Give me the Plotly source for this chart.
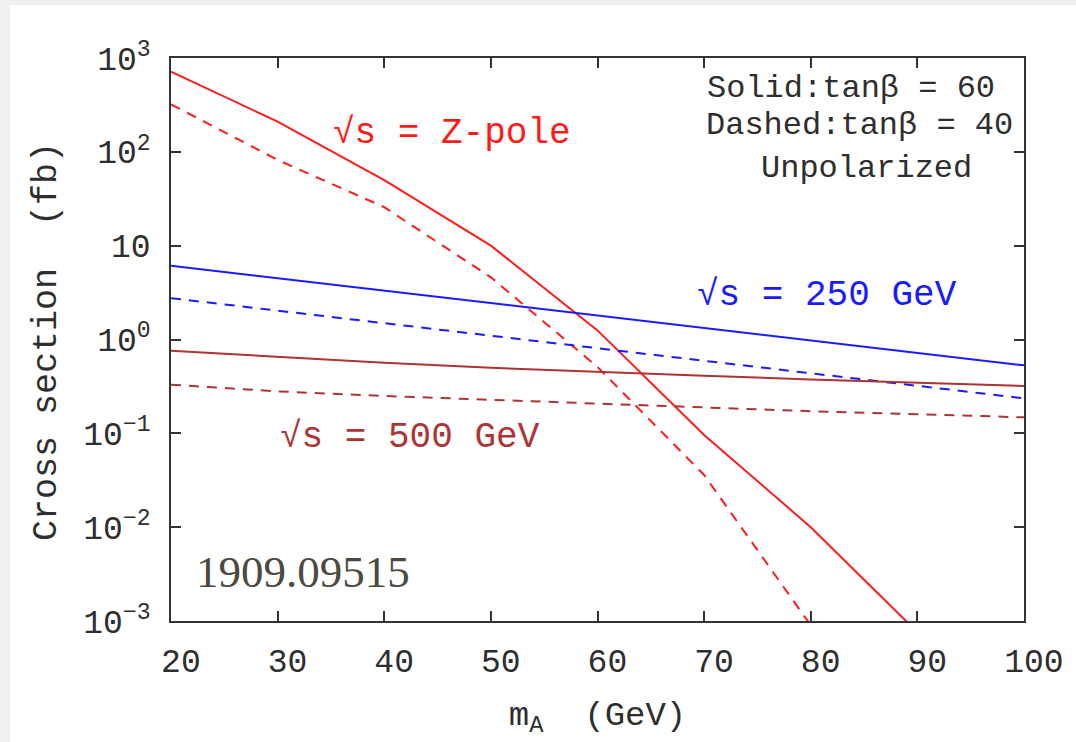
import plotly.graph_objects as go

# Pseudoscalar mass grid (GeV)
m_A = [20, 30, 40, 50, 60, 70, 80, 90, 100]

# Cross sections (fb)
zpole_tb60 = [714, 210, 50, 10.0, 1.25, 0.096, 0.0100, 0.00076]
zpole_tb40 = [321, 82, 25.7, 4.6, 0.51, 0.036, 0.00090]
s250_tb60 = [6.11, 4.5, 3.32, 2.45, 1.81, 1.33, 0.98, 0.72, 0.53]
s250_tb40 = [2.76, 2.03, 1.50, 1.10, 0.81, 0.60, 0.44, 0.32, 0.236]
s500_tb60 = [0.76, 0.65, 0.565, 0.50, 0.45, 0.41, 0.375, 0.345, 0.32]
s500_tb40 = [0.33, 0.28, 0.25, 0.228, 0.21, 0.19, 0.172, 0.16, 0.148]

y_tickvals = [1e-3, 1e-2, 1e-1, 1, 10, 100, 1000]
y_ticktext = ["10<sup>−3</sup>", "10<sup>−2</sup>", "10<sup>−1</sup>",
              "10<sup>0</sup>", "10", "10<sup>2</sup>", "10<sup>3</sup>"]
x_tickvals = [20, 30, 40, 50, 60, 70, 80, 90, 100]
x_ticktext = ["&nbsp;" + str(v) for v in x_tickvals]

RED = "#ff1a1a"
BLUE = "#1a1aff"
BROWN = "#ad3434"
INK = "#2e2e2e"
MONO = "Liberation Mono, Courier New, monospace"
DASH = "10px,8px"

fig = go.Figure()

series = [
    (zpole_tb60, RED, "solid"),
    (zpole_tb40, RED, DASH),
    (s250_tb60, BLUE, "solid"),
    (s250_tb40, BLUE, DASH),
    (s500_tb60, BROWN, "solid"),
    (s500_tb40, BROWN, DASH),
]
for vals, color, dash in series:
    fig.add_trace(go.Scatter(
        x=m_A[:len(vals)], y=vals, mode="lines",
        line=dict(color=color, width=2, dash=dash),
        showlegend=False, hoverinfo="skip",
    ))

def label(x, logy, text, color, size):
    fig.add_annotation(x=x, y=logy, xref="x", yref="y", text=text,
                       showarrow=False, xanchor="center", yanchor="middle",
                       font=dict(family=MONO, size=size, color=color))

label(46.4, 2.2, "√s = Z-pole", RED, 36)
label(81.5, 0.473, "√s = 250 GeV", BLUE, 36)
label(42.4, -1.04, "√s = 500 GeV", BROWN, 36)
label(83.8, 2.68, "Solid:tanβ = 60", INK, 32)
label(84.6, 2.286, "Dashed:tanβ = 40", INK, 32)
label(85.2, 1.827, "Unpolarized", INK, 32)

fig.add_annotation(x=32.4, y=-2.48, xref="x", yref="y", text="1909.09515",
                   showarrow=False, xanchor="center", yanchor="middle",
                   font=dict(family="Liberation Serif, serif", size=45,
                             color="#4d4840"))

# vertical axis title
fig.add_annotation(x=-124 / 853, y=0.4956, xref="paper", yref="paper",
                   text="Cross section  (fb)", textangle=-90,
                   showarrow=False, xanchor="center", yanchor="middle",
                   font=dict(family=MONO, size=35, color=INK))

# light grey page edge
fig.add_shape(type="rect", xref="paper", yref="paper",
              x0=-171 / 853, x1=-161 / 853, y0=-1, y1=2,
              fillcolor="#f0f0f0", line_width=0, layer="below")
fig.add_shape(type="rect", xref="paper", yref="paper",
              x0=-1, x1=2, y0=1 + 53 / 563, y1=1 + 60 / 563,
              fillcolor="#f0f0f0", line_width=0, layer="below")

axis_common = dict(
    showline=True, linecolor="#333333", linewidth=1.5, mirror="ticks",
    ticks="inside", ticklen=10, tickwidth=1.5, tickcolor="#333333",
    showgrid=False, zeroline=False,
    tickfont=dict(family=MONO, size=33, color=INK),
)

fig.update_xaxes(range=[20, 100], tickvals=x_tickvals, ticktext=x_ticktext,
                 title=dict(text="m<sub>A</sub>  (GeV)",
                            font=dict(family=MONO, size=34, color=INK),
                            standoff=20),
                 ticklabelstandoff=10, **axis_common)
fig.update_yaxes(type="log", range=[-3, 3], tickvals=y_tickvals,
                 ticktext=y_ticktext, ticklabelstandoff=12, **axis_common)

fig.update_layout(
    width=1076, height=742,
    margin=dict(l=171, r=52, t=58, b=121),
    paper_bgcolor="white", plot_bgcolor="white",
)

fig.write_html("out.html")
